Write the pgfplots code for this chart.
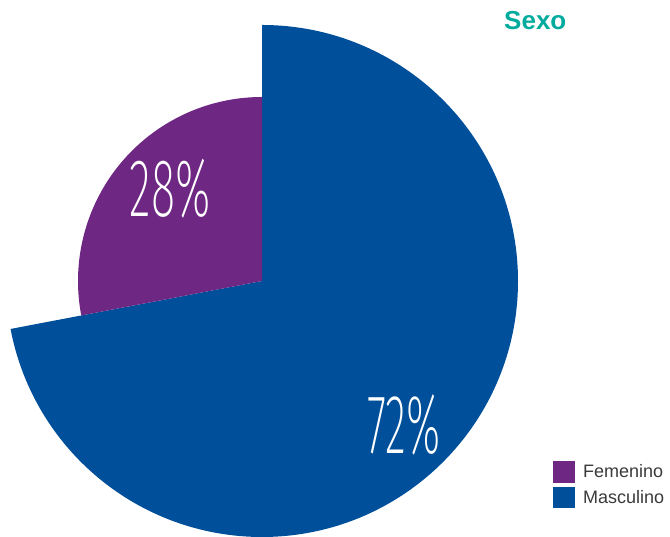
\documentclass[border=0pt]{standalone}
\usepackage{pgfplots}
\pgfplotsset{compat=1.18}
\usepackage{fontspec}
\setmainfont{Liberation Sans}
\newfontfamily\thinfont{Fira Sans}[UprightFont={* ExtraLight}]
\definecolor{masc}{HTML}{004F9A}
\definecolor{fem}{HTML}{6E2783}
\definecolor{teal}{HTML}{00AB9E}
\definecolor{legtext}{HTML}{3A3A3A}
% data (percent)
\def\femval{28}
\def\mascval{72}
\begin{document}
\begin{tikzpicture}
\begin{axis}[
  x=1pt, y=1pt, scale only axis,
  xmin=0, xmax=670, ymin=0, ymax=537,
  enlargelimits=false, hide axis, clip=false]
\path (axis cs:0,0) rectangle (axis cs:670,537);
\pgfmathsetmacro{\split}{90+3.6*\femval}
\pgfmathsetmacro{\mascend}{\split-360}
% Masculino: from 90 clockwise to split
\fill[masc] (axis cs:262,256) -- ++(90:256pt) arc[start angle=90, end angle=\mascend, radius=256pt] -- cycle;
% Femenino
\fill[fem] (axis cs:262,256) -- ++(90:184pt) arc[start angle=90, end angle=\split, radius=184pt] -- cycle;
\node[text=white, font=\thinfont\fontsize{82}{82}\selectfont, inner sep=0pt] at (axis cs:170,348) {\scalebox{0.55}[1]{\femval\%}};
\node[text=white, font=\thinfont\fontsize{84}{84}\selectfont, inner sep=0pt] at (axis cs:404,112) {\scalebox{0.52}[1]{\mascval\%}};
\node[text=teal, font=\bfseries\fontsize{26}{26}\selectfont, anchor=base west, inner sep=0pt] at (axis cs:504,507) {Sexo};
\fill[fem] (axis cs:553,54) rectangle (axis cs:575,76);
\fill[masc] (axis cs:553,29) rectangle (axis cs:575,50);
\node[text=legtext, font=\fontsize{18}{18}\selectfont, anchor=base west, inner sep=0pt] at (axis cs:583,59) {Femenino};
\node[text=legtext, font=\fontsize{18}{18}\selectfont, anchor=base west, inner sep=0pt] at (axis cs:583,33) {Masculino};
\end{axis}
\end{tikzpicture}
\end{document}
